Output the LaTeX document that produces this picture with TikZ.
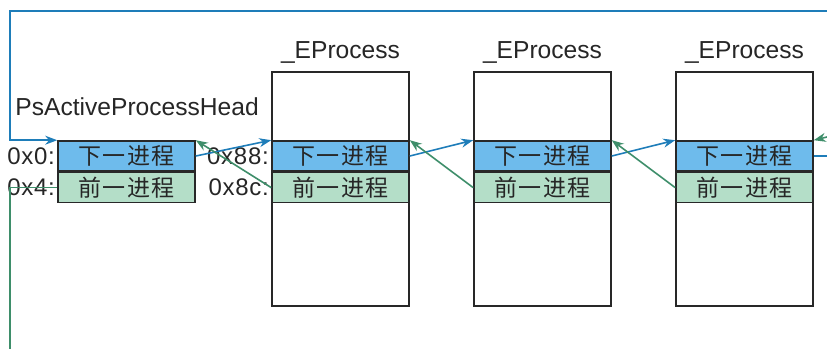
\documentclass[tikz,border=0pt]{standalone}
\usepackage{fontspec}
\setmainfont{Liberation Sans}
\newfontfamily\cjk[LetterSpace=6]{Noto Sans CJK SC}
\newfontfamily\spaced[LetterSpace=3]{Liberation Sans}
\usetikzlibrary{positioning}
\usetikzlibrary{arrows.meta}

\definecolor{nextfill}{RGB}{110,187,236}
\definecolor{prevfill}{RGB}{180,222,200}
\definecolor{nextline}{RGB}{30,125,185}
\definecolor{prevline}{RGB}{62,142,106}
\definecolor{boxline}{RGB}{40,40,40}

\tikzset{
 field/.style={draw=boxline,line width=0.8pt,minimum width=68.5pt,minimum height=15pt,inner sep=0pt,text=black!85,font=\fontsize{11.5}{13}\selectfont\cjk},
 nextfield/.style={field,fill=nextfill},
 prevfield/.style={field,fill=prevfill},
 offset/.style={anchor=east,inner sep=1pt,text=black!85,font=\fontsize{12}{14}\selectfont\spaced},
 title/.style={anchor=base,text=black!85,font=\fontsize{12.3}{14}\selectfont},
 procbox/.style={draw=boxline,line width=0.8pt,minimum width=68.5pt,minimum height=117pt,inner sep=0pt},
 nextptr/.style={draw=nextline,line width=0.8pt,-{Stealth[length=6pt,width=4.5pt]}},
 prevptr/.style={draw=prevline,line width=0.8pt,-{Stealth[length=6pt,width=4.5pt]}},
}

\begin{document}
\begin{tikzpicture}[x=0.5pt,y=-0.5pt]
 \useasboundingbox (0,0) rectangle (827,349);

 % list head
 \node[title,anchor=base west,inner sep=0pt] (headname) at (15,115) {PsActiveProcessHead};
 \node[nextfield] (hnext) at (126.5,156) {下一进程};
 \node[prevfield,below=0pt of hnext] (hprev) {前一进程};
 \node[offset] (hoff0) at (hnext.west) {0x0:};
 \node[offset] (hoff4) at (hprev.west) {0x4:};

 % _EProcess blocks
 \foreach \i/\x in {1/340.5,2/542.5,3/744.5}{
  \node[procbox] (proc\i) at (\x,189) {};
  \node[title] (name\i) at (\x,58) {\_EProcess};
  \node[nextfield] (next\i) at (\x,156) {下一进程};
  \node[prevfield,below=0pt of next\i] (prev\i) {前一进程};
 }
 \node[offset] (poff88) at (next1.west) {0x88:};
 \node[offset] (poff8c) at (prev1.west) {0x8c:};

 % links
 \draw[nextptr] (hnext.east) -- (next1.north west);
 \draw[prevptr] (prev1.west) -- (hnext.north east);
 \foreach \i/\j in {1/2,2/3}{
  \draw[nextptr] (next\i.east) -- (next\j.north west);
  \draw[prevptr] (prev\j.west) -- (next\i.north east);
 }

 % off to the next entries
 \coordinate (rnext) at (827,156);
 \coordinate (rprev) at (827,137);
 \draw[nextline,line width=0.8pt] (next3.east) -- (rnext);
 \draw[prevptr] (rprev) -- (next3.north east);

 % wrap-around
 \coordinate (topR) at (827,11);
 \coordinate (topL) at (10,11);
 \coordinate (botL) at (10,349);
 \draw[nextptr] (topR) -- (topL) |- (hnext.north west);
 \draw[prevline,line width=0.8pt] (hprev.west) -| (botL);
\end{tikzpicture}
\end{document}
